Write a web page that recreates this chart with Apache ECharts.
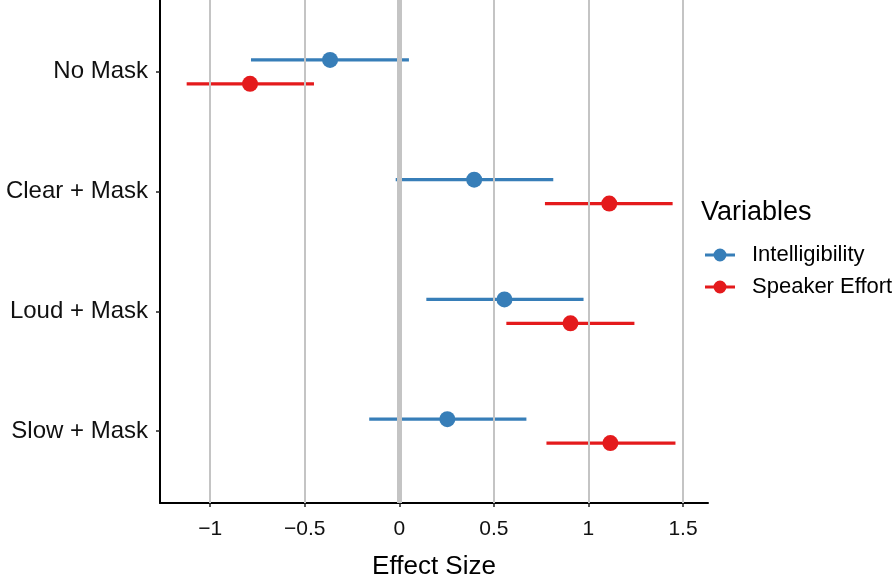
<!DOCTYPE html>
<html>
<head>
<meta charset="utf-8">
<script src="https://cdn.jsdelivr.net/npm/echarts@6/dist/echarts.min.js"></script>
<style>
html,body{margin:0;padding:0;background:#fff;}
#chart{width:896px;height:576px;}
</style>
</head>
<body>
<div id="chart"></div>
<script>
// ---- data ----
const categories = ['No Mask', 'Clear + Mask', 'Loud + Mask', 'Slow + Mask'];
const intelEst  = [-0.366, 0.396, 0.556, 0.254];
const intelLow  = [-0.784, -0.019, 0.143, -0.159];
const intelHigh = [0.051, 0.814, 0.974, 0.672];
const effortEst  = [-0.789, 1.110, 0.905, 1.116];
const effortLow  = [-1.124, 0.770, 0.566, 0.778];
const effortHigh = [-0.451, 1.445, 1.243, 1.460];
const xTicks = [-1, -0.5, 0, 0.5, 1, 1.5];
const seriesNames = ['Intelligibility', 'Speaker Effort'];

// ---- build ----
const nCat = categories.length;
const catPos = categories.map((c, i) => nCat - i);        // 4,3,2,1
const dodge = 0.1;
const colors = ['#377EB8', '#E41A1C'];

function rows(est, low, high, off) {
  return categories.map((c, i) => [est[i], catPos[i] + off, low[i], high[i]]);
}
const intelRows = rows(intelEst, intelLow, intelHigh, dodge);
const effortRows = rows(effortEst, effortLow, effortHigh, -dodge);

function fmtX(v) {
  return v < 0 ? '\u2212' + Math.abs(v) : String(v);
}

const legendIcon = 'path://M0,5 L8.7,5 L8.7,8 L0,8 Z M21.3,5 L30,5 L30,8 L21.3,8 Z M21.5,6.5 A6.5,6.5 0 1 1 8.5,6.5 A6.5,6.5 0 1 1 21.5,6.5 Z';

function errorBarSeries(name, data, color) {
  return {
    name: name,
    type: 'custom',
    data: data,
    encode: { x: [0, 2, 3], y: 1 },
    z: 3,
    silent: true,
    renderItem: function (params, api) {
      const y = api.value(1);
      const p1 = api.coord([api.value(2), y]);
      const p2 = api.coord([api.value(3), y]);
      return {
        type: 'line',
        shape: { x1: p1[0], y1: p1[1], x2: p2[0], y2: p2[1] },
        style: { stroke: color, lineWidth: 3.2 }
      };
    },
    itemStyle: { color: color }
  };
}
function pointSeries(name, data, color) {
  return {
    name: name,
    type: 'scatter',
    data: data.map(r => [r[0], r[1]]),
    symbol: 'circle',
    symbolSize: 16,
    z: 4,
    itemStyle: { color: color, opacity: 1 },
    silent: true
  };
}

const chart = echarts.init(document.getElementById('chart'), null, { renderer: 'canvas' });
chart.setOption({
  animation: false,
  backgroundColor: '#ffffff',
  textStyle: { fontFamily: 'Liberation Sans, Arial, sans-serif' },
  grid: { left: 160, right: 188, top: 0, bottom: 73, containLabel: false, outerBoundsMode: 'none' },
  xAxis: {
    type: 'value',
    min: -1.265,
    max: 1.632,
    name: 'Effect Size',
    nameLocation: 'middle',
    nameGap: 51,
    nameTextStyle: { fontSize: 26, color: '#000', fontFamily: 'Liberation Sans' },
    axisLine: { show: true, onZero: false, lineStyle: { color: '#000', width: 2 } },
    axisTick: { show: true, length: 4, customValues: xTicks, lineStyle: { color: '#222', width: 1.5 } },
    axisLabel: { customValues: xTicks, formatter: fmtX, fontSize: 21, color: '#111', margin: 16, fontFamily: 'Liberation Sans' },
    splitLine: { show: false }
  },
  yAxis: {
    type: 'value',
    min: 0.4,
    max: 4.6,
    axisLine: { show: true, onZero: false, lineStyle: { color: '#000', width: 2 } },
    axisTick: { show: true, length: 4, customValues: catPos, lineStyle: { color: '#222', width: 1.5 } },
    axisLabel: {
      customValues: catPos,
      formatter: function (v) { return categories[nCat - Math.round(v)]; },
      fontSize: 24, color: '#111', margin: 12, verticalAlign: 'middle', lineHeight: 24, padding: [6, 0, 0, 0], fontFamily: 'Liberation Sans'
    },
    splitLine: { show: false }
  },
  title: {
    text: 'Variables',
    left: 701,
    top: 199,
    padding: 0,
    textStyle: { fontSize: 27, fontWeight: 'normal', color: '#000', fontFamily: 'Liberation Sans' }
  },
  legend: {
    data: seriesNames.map(n => ({ name: n, icon: legendIcon })),
    orient: 'vertical',
    left: 705,
    top: 244,
    padding: 0,
    itemWidth: 30,
    itemHeight: 13,
    itemGap: 10,
    selectedMode: false,
    textStyle: { fontSize: 22, color: '#000', padding: [0, 0, 0, 12], fontFamily: 'Liberation Sans' }
  },
  series: [
    {
      name: 'grid',
      type: 'scatter',
      data: [],
      silent: true,
      z: 1,
      markLine: {
        silent: true,
        symbol: ['none', 'none'],
        label: { show: false },
        animation: false,
        data: xTicks.map(v => ({
          xAxis: v,
          lineStyle: { color: '#c4c4c4', type: 'solid', width: v === 0 ? 5 : 2 }
        }))
      }
    },
    errorBarSeries(seriesNames[0], intelRows, colors[0]),
    errorBarSeries(seriesNames[1], effortRows, colors[1]),
    pointSeries(seriesNames[0], intelRows, colors[0]),
    pointSeries(seriesNames[1], effortRows, colors[1])
  ]
});
</script>
</body>
</html>
